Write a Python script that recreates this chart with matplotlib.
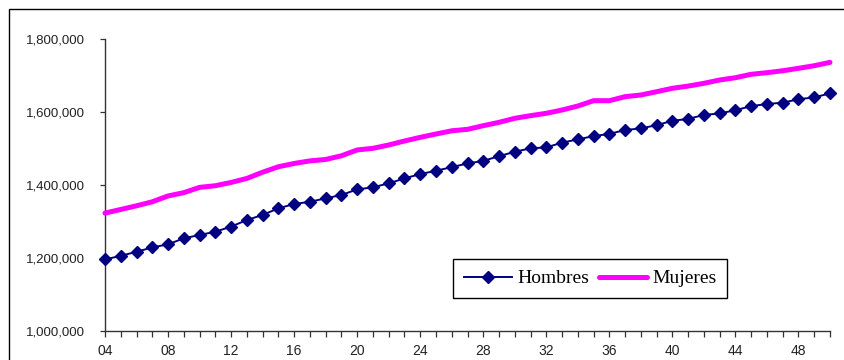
import matplotlib
matplotlib.use("Agg")
import matplotlib.pyplot as plt
from matplotlib.patches import Rectangle
from matplotlib.ticker import FuncFormatter

# Population projection by sex, 2004-2050
years = list(range(2004, 2051))

hombres = [
    1196000, 1206000, 1217000, 1229000, 1237500, 1254000, 1263000, 1272000,
    1286000, 1304000, 1318000, 1336000, 1348000, 1354000, 1363500, 1372600,
    1388000, 1393600, 1404500, 1418000, 1430000, 1439000, 1449000, 1459000,
    1466000, 1479000, 1491000, 1500500, 1503000, 1516000, 1525000, 1534000,
    1540000, 1550700, 1555000, 1564000, 1576000, 1581000, 1592000, 1596000,
    1605000, 1616000, 1622000, 1625500, 1635000, 1640000, 1651000,
]

mujeres = [
    1323000, 1333000, 1343000, 1354000, 1370000, 1379000, 1393500, 1398000,
    1407000, 1418000, 1435000, 1450000, 1459000, 1466000, 1470000, 1480000,
    1496000, 1500500, 1509600, 1520500, 1530600, 1539700, 1548500, 1552500,
    1562500, 1571700, 1582700, 1590000, 1596400, 1605500, 1616400, 1631000,
    1631000, 1642000, 1646600, 1655600, 1665000, 1671000, 1678600, 1687700,
    1694000, 1703300, 1707700, 1713000, 1719700, 1726800, 1736000,
]

series_labels = ["Hombres", "Mujeres"]
y_ticks = [1000000, 1200000, 1400000, 1600000, 1800000]

W, H = 844, 360
fig = plt.figure(figsize=(W / 100, H / 100), dpi=100)
fig.patch.set_facecolor("white")

# outer chart frame
fig.patches.append(Rectangle((9 / W, -0.1), (860 - 9) / W, 1.1 - 9 / H,
                             transform=fig.transFigure, fill=False,
                             edgecolor="black", linewidth=1.0))

ax = fig.add_axes([105 / W, 1 - 331 / H, (830 - 105) / W, 292 / H])

ax.plot(years, hombres, color="#000080", linewidth=1.4, marker="D",
        markersize=6.5, markerfacecolor="#000080", markeredgecolor="#000080",
        label=series_labels[0], clip_on=False, zorder=3)
ax.plot(years, mujeres, color="#FF00FF", linewidth=3.6,
        solid_capstyle="round", label=series_labels[1], clip_on=False, zorder=3)

ax.set_xlim(years[0], years[-1])
ax.set_ylim(y_ticks[0], y_ticks[-1])

ax.set_xticks(years)
ax.set_xticklabels([f"{y % 100:02d}" if (y - 2004) % 4 == 0 else "" for y in years])
ax.set_yticks(y_ticks)
ax.yaxis.set_major_formatter(FuncFormatter(lambda v, p: f"{v:,.0f}"))

for side in ("top", "right"):
    ax.spines[side].set_visible(False)
for side in ("left", "bottom"):
    ax.spines[side].set_color("#333333")
    ax.spines[side].set_linewidth(1.0)

ax.tick_params(axis="y", direction="out", length=3.6, width=0.9,
               color="#333333", pad=11, labelsize=9.5, labelcolor="#222222")
ax.tick_params(axis="x", direction="out", length=4.3, width=0.9,
               color="#333333", pad=5, labelsize=10, labelcolor="#222222")
for lbl in ax.get_xticklabels() + ax.get_yticklabels():
    lbl.set_fontfamily("Liberation Sans")

leg = ax.legend(loc="upper left", bbox_to_anchor=(453 / W, 1 - 259 / H),
                bbox_transform=fig.transFigure, ncol=2, frameon=True,
                fancybox=False, edgecolor="black", framealpha=1,
                prop={"family": "Liberation Serif", "size": 14},
                handlelength=2.5, handletextpad=0.25, columnspacing=0.5,
                borderpad=0.55, borderaxespad=0)
leg.get_frame().set_linewidth(1.0)

fig.savefig("out.png", dpi=100, facecolor="white")
